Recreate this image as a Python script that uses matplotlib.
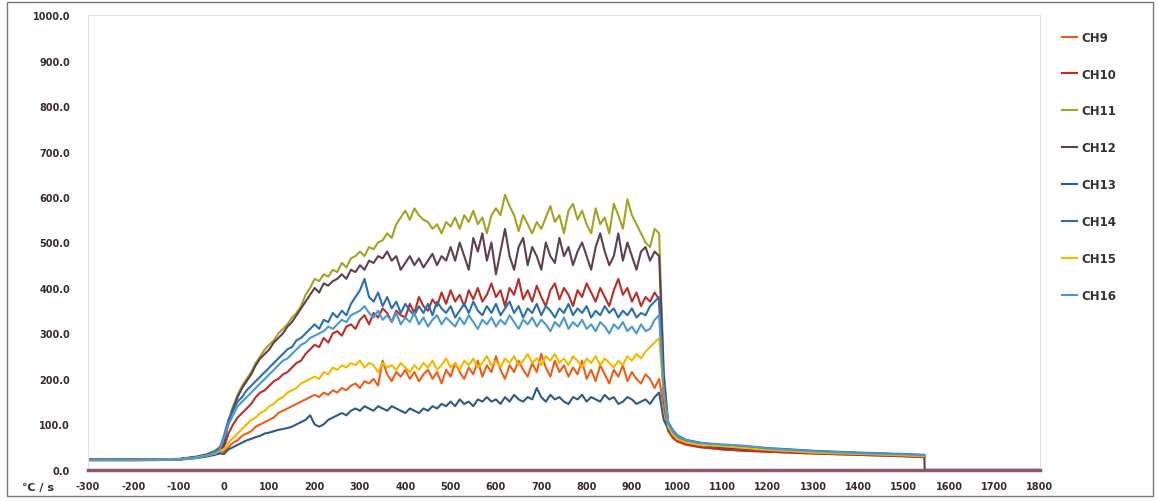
import matplotlib
matplotlib.use('Agg')
import matplotlib.pyplot as plt
from matplotlib.patches import Rectangle

# 时间轴 (s)
t_pre = [-300, -200, -100, -60, -40, -20, -10]
t_main = list(range(0, 961, 10))
t_post = [970, 980, 990, 1000, 1020, 1050, 1100, 1150, 1200, 1250, 1300, 1400, 1500, 1545]
t_end = [1546, 1800]

# 各通道温度 (℃)
ch9 = ([22, 22, 23, 27, 31, 37, 40] +
       [40, 50, 60, 65, 75, 80, 85, 95, 100, 105,
        110, 115, 125, 130, 135, 140, 145, 150, 155, 160,
        165, 160, 170, 165, 175, 170, 180, 175, 185, 190,
        180, 195, 190, 200, 185, 240, 210, 195, 215, 205,
        220, 200, 215, 195, 210, 220, 200, 215, 190, 220,
        205, 235, 215, 200, 225, 210, 240, 205, 230, 215,
        250, 220, 200, 230, 215, 240, 220, 205, 235, 215,
        255, 225, 205, 240, 215, 230, 205, 225, 210, 240,
        200, 220, 195, 230, 210, 190, 220, 205, 230, 195,
        215, 200, 190, 210, 200, 180, 200] +
       [140, 85, 70, 62, 55, 50, 45, 42, 40, 38, 36, 33, 30, 28])

ch10 = ([22, 22, 23, 28, 32, 38, 44] +
        [50, 80, 100, 115, 125, 135, 145, 160, 170, 175,
         185, 195, 200, 210, 215, 225, 235, 240, 255, 265,
         275, 270, 290, 280, 300, 305, 295, 315, 320, 310,
         330, 340, 320, 345, 335, 355, 345, 325, 350, 340,
         335, 365, 345, 380, 360, 350, 375, 360, 390, 365,
         395, 370, 385, 360, 395, 375, 400, 370, 385, 410,
         380, 395, 360, 400, 385, 420, 375, 395, 370, 405,
         380, 360, 395, 410, 375, 400, 385, 360, 395, 380,
         410, 390, 370, 400, 380, 360, 395, 420, 385, 400,
         370, 390, 360, 380, 370, 390, 375] +
        [160, 88, 72, 64, 56, 50, 45, 42, 40, 38, 36, 33, 30, 28])

ch11 = ([23, 23, 24, 29, 34, 42, 50] +
        [60, 110, 140, 165, 185, 200, 215, 235, 250, 265,
         275, 285, 300, 310, 320, 335, 345, 360, 385, 400,
         420, 415, 430, 425, 440, 435, 455, 445, 465, 470,
         480, 470, 490, 485, 500, 505, 520, 510, 540, 555,
         570, 550, 575, 560, 550, 545, 530, 540, 520, 545,
         535, 555, 530, 560, 545, 570, 540, 555, 520, 560,
         575, 560, 605, 580, 560, 525, 560, 540, 520, 545,
         530, 555, 580, 545, 560, 520, 570, 585, 550, 570,
         540, 520, 575, 540, 555, 520, 585, 560, 530, 595,
         560, 540, 520, 500, 490, 530, 520] +
        [220, 100, 82, 72, 62, 56, 50, 46, 44, 42, 40, 36, 33, 31])

ch12 = ([23, 23, 24, 29, 33, 40, 48] +
        [55, 105, 135, 160, 180, 195, 210, 230, 245, 255,
         265, 280, 290, 300, 315, 325, 340, 355, 370, 385,
         400, 390, 410, 405, 415, 420, 430, 420, 440, 435,
         450, 440, 460, 455, 470, 465, 480, 460, 470, 440,
         455, 470, 450, 465, 445, 460, 475, 450, 470, 460,
         490, 460, 500, 470, 440, 510, 480, 520, 460, 500,
         430, 480, 530, 470, 440, 490, 510, 450, 490, 470,
         440, 500, 470, 455, 510, 470, 490, 450, 480, 500,
         470, 440, 490, 520, 480, 450, 470, 520, 460, 500,
         470, 440, 480, 490, 460, 480, 470] +
        [210, 98, 80, 70, 60, 55, 49, 46, 44, 41, 39, 36, 33, 30] +
        [0, 0])

ch13 = ([21, 21, 22, 26, 29, 33, 36] +
        [35, 45, 50, 55, 60, 65, 68, 72, 75, 80,
         82, 85, 88, 90, 92, 95, 100, 105, 110, 120,
         100, 95, 100, 110, 115, 120, 125, 120, 130, 135,
         130, 140, 135, 130, 140, 135, 130, 140, 135, 130,
         125, 135, 130, 125, 135, 130, 140, 135, 145, 140,
         150, 140, 155, 145, 150, 140, 155, 150, 160, 150,
         155, 145, 160, 150, 165, 155, 150, 160, 155, 180,
         160, 150, 165, 155, 160, 150, 145, 160, 155, 165,
         150, 160, 155, 150, 165, 155, 160, 145, 150, 160,
         155, 145, 150, 155, 145, 160, 170] +
        [110, 90, 78, 70, 62, 57, 52, 48, 46, 44, 41, 37, 34, 32])

ch14 = ([22, 22, 23, 28, 32, 40, 46] +
        [75, 110, 130, 150, 160, 175, 185, 195, 205, 215,
         225, 235, 245, 255, 265, 270, 285, 290, 300, 310,
         320, 310, 330, 325, 345, 335, 350, 340, 365, 380,
         395, 420, 380, 370, 390, 360, 380, 355, 370, 345,
         365, 350, 340, 360, 345, 365, 340, 370, 355, 345,
         360, 335, 350, 365, 345, 370, 350, 340, 360, 345,
         365, 340, 355, 370, 345, 360, 335, 355, 345, 365,
         340, 360, 350, 335, 355, 345, 365, 340, 355, 345,
         360, 335, 350, 340, 360, 345, 355, 335, 350, 340,
         355, 335, 345, 340, 360, 370, 380] +
        [180, 105, 88, 76, 66, 60, 54, 52, 48, 45, 42, 38, 35, 33])

ch15 = ([22, 22, 23, 27, 31, 36, 42] +
        [45, 60, 70, 80, 90, 100, 110, 115, 125, 130,
         140, 145, 155, 160, 170, 175, 180, 190, 195, 200,
         205, 200, 215, 210, 225, 220, 230, 225, 235, 230,
         240, 225, 235, 230, 215, 235, 225, 230, 220, 235,
         225, 215, 230, 220, 235, 225, 240, 220, 230, 245,
         225, 235, 220, 240, 230, 245, 225, 235, 250, 230,
         240, 225, 245, 235, 250, 230, 240, 255, 235, 245,
         230, 250, 240, 255, 235, 245, 230, 250, 240, 225,
         245, 235, 250, 230, 245, 235, 225, 240, 230, 250,
         240, 255, 245, 260, 270, 280, 290] +
        [170, 95, 78, 68, 60, 55, 52, 48, 44, 41, 38, 35, 32, 30])

ch16 = ([22, 22, 23, 27, 31, 38, 44] +
        [70, 100, 120, 140, 150, 160, 170, 180, 190, 200,
         210, 220, 230, 240, 245, 255, 265, 275, 280, 290,
         295, 300, 305, 315, 310, 320, 330, 325, 340, 345,
         350, 360, 345, 335, 350, 330, 340, 325, 345, 320,
         335, 325, 345, 320, 335, 315, 330, 340, 320, 335,
         325, 315, 335, 320, 340, 325, 310, 330, 320, 335,
         315, 330, 320, 340, 325, 310, 330, 320, 335, 315,
         330, 320, 305, 325, 315, 335, 310, 325, 315, 330,
         310, 320, 305, 325, 315, 300, 320, 310, 325, 305,
         315, 300, 320, 305, 310, 330, 340] +
        [175, 102, 85, 74, 65, 59, 56, 53, 47, 44, 41, 37, 34, 32])

labels = ['CH9', 'CH10', 'CH11', 'CH12', 'CH13', 'CH14', 'CH15', 'CH16']
series = [ch9, ch10, ch11, ch12, ch13, ch14, ch15, ch16]
colors = ['#e8601c', '#b8302a', '#a3a324', '#5e4050', '#2e5a85', '#2a6fb0', '#f5b800', '#4a9ad0']

x_ticks = list(range(-300, 1801, 100))
y_ticks = list(range(0, 1001, 100))

t_all = t_pre + t_main + t_post

fig = plt.figure(figsize=(11.58, 5.02), dpi=100)
ax = fig.add_axes([0.076, 0.062, 0.822, 0.906])

for name, vals, c in zip(labels, series, colors):
    tt = t_all + t_end if len(vals) > len(t_all) else t_all
    ax.plot(tt, vals, color=c, lw=1.5, label=name)

ax.set_xlim(-300, 1800)
ax.set_ylim(0, 1000)
ax.set_xticks(x_ticks)
ax.set_xticklabels([str(v) for v in x_ticks], fontsize=7, fontweight='bold', color='#3a2a2a')
ax.set_yticks(y_ticks)
ax.set_yticklabels(['%.1f' % v for v in y_ticks], fontsize=7, fontweight='bold', color='#3a2a2a')
ax.tick_params(axis='x', length=0, pad=8)
ax.tick_params(axis='y', length=0, pad=13)

for s in ['left', 'top', 'right']:
    ax.spines[s].set_color('#e0e0e0')
    ax.spines[s].set_linewidth(0.8)
ax.spines['bottom'].set_color('#8c5a66')
ax.spines['bottom'].set_linewidth(2.5)

fig.text(0.019, 0.028, '℃ / s', fontsize=8, fontweight='bold', color='#3a2a2a', va='center')

fig.legend(loc='upper left', bbox_to_anchor=(0.908, 0.958), frameon=False,
           prop={'size': 8.5, 'weight': 'bold'}, labelspacing=2.02,
           handlelength=1.3, handletextpad=0.3, labelcolor='#333333')

fig.patches.append(Rectangle((0.006, 0.01), 0.99, 0.985, transform=fig.transFigure,
                             fill=False, edgecolor='#777777', lw=1))

fig.savefig('out.png', dpi=100)
